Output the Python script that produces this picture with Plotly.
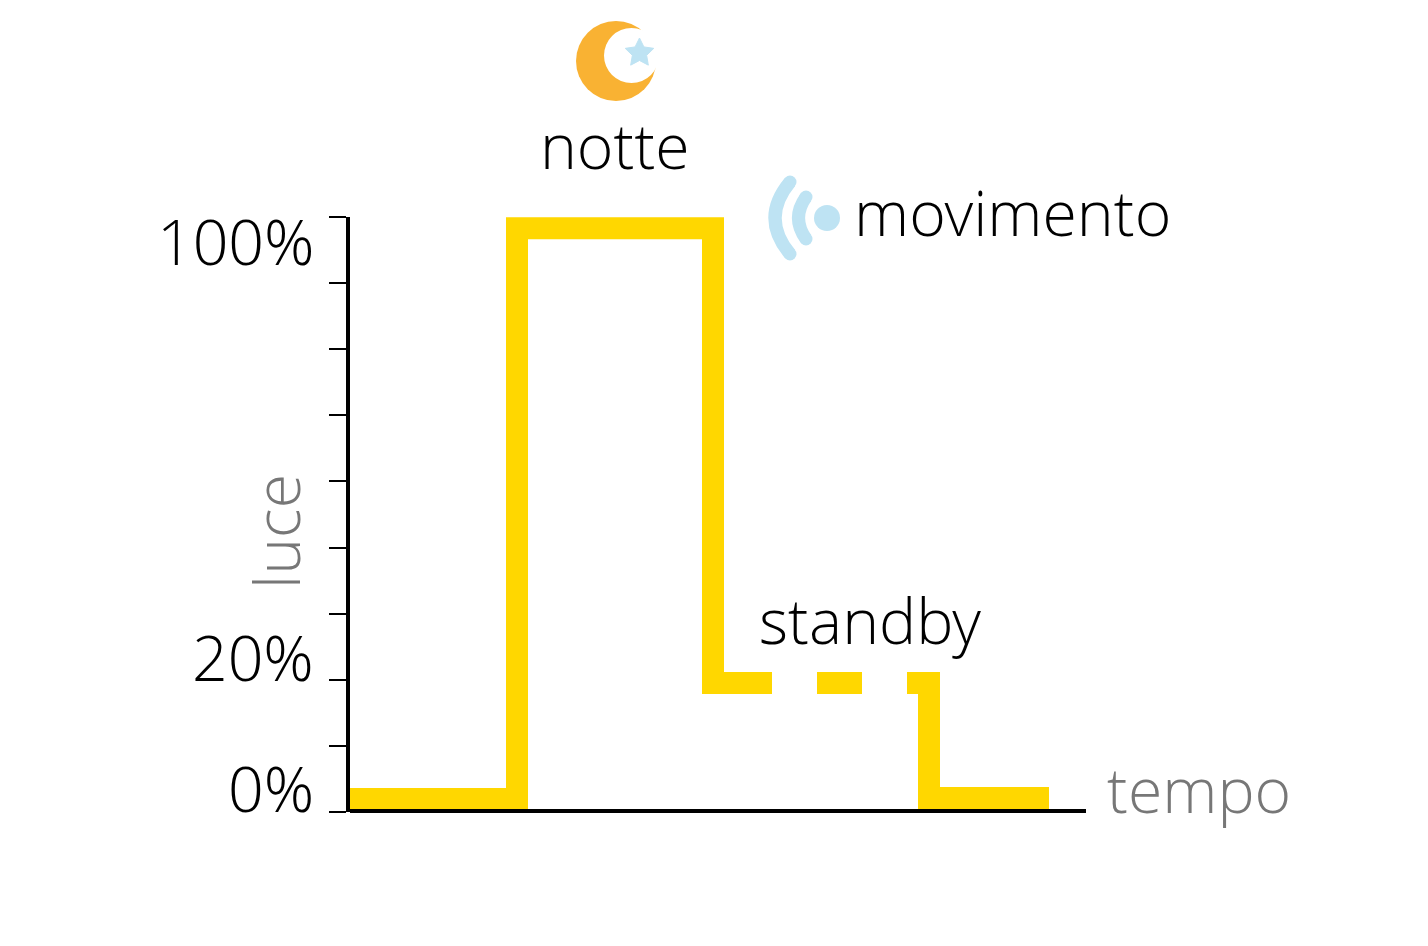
import math
import plotly.graph_objects as go

# Data
time_values = [0, 1.67, 1.67, 3.63, 3.63, 4.22, None, 4.67, 5.12, None, 5.57, 5.79, 5.79, 6.99]
light_values = [0.197, 0.197, 8.83, 8.83, 1.95, 1.95, None, 1.95, 1.95, None, 1.95, 1.95, 0.21, 0.21]
tick_positions = [0, 1, 2, 3, 4, 5, 6, 7, 8, 9]
tick_labels = ["0%", "20%", "100%"]
axis_titles = ["luce", "tempo"]
phase_labels = ["notte", "movimento", "standby"]

W, H = 1412, 930
OFF = 8
L, R, T, B = 350, 1086, 217, 812
FONT = "Open Sans Light, Open Sans, sans-serif"
YEL = "#FFD700"
BLUE = "#BEE3F3"
ORANGE = "#F9B233"
GREY = "#777777"


def px(x):
    return (x - L) / (R - L)


def py(y):
    return (B - y) / (B - T)


def circle(cx, cy, r, color):
    return dict(type="circle", xref="paper", yref="paper",
                x0=px(cx - r), x1=px(cx + r), y0=py(cy + r), y1=py(cy - r),
                fillcolor=color, line=dict(width=0), layer="above")


def poly(points, color):
    d = "M " + " L ".join(f"{px(a):.5f},{py(b):.5f}" for a, b in points) + " Z"
    return dict(type="path", xref="paper", yref="paper", path=d, fillcolor=color,
                line=dict(width=1, color=color), layer="above")


def arc(x0, y0, cx, cy, x1, y1, width, color):
    d = f"M {px(x0):.5f},{py(y0):.5f} Q {px(cx):.5f},{py(cy):.5f} {px(x1):.5f},{py(y1):.5f}"
    return dict(type="path", xref="paper", yref="paper", path=d,
                line=dict(width=width, color=color), layer="above")


star = []
for i in range(10):
    r = 15 if i % 2 == 0 else 7.5
    a = math.radians(-90 + 36 * i)
    star.append((639.5 + r * math.cos(a), 53 + r * math.sin(a)))

shapes = [
    circle(616, 61, 40, ORANGE),
    circle(631.5, 55.5, 27.5, "white"),
    poly(star, BLUE),
    circle(827, 218, 13, BLUE),
    arc(806, 197, 791, 218, 806, 239, 13, BLUE),
    circle(806, 197, 6.5, BLUE),
    circle(806, 239, 6.5, BLUE),
    arc(790, 182, 760, 218, 790, 254, 13, BLUE),
    circle(790, 182, 6.5, BLUE),
    circle(790, 254, 6.5, BLUE),
]


def label(text, x, y, anchor="center", color="black", size=62.5, angle=0):
    return dict(text=text, xref="paper", yref="paper", x=px(x), y=py(y), xanchor=anchor,
                yanchor="middle", showarrow=False, textangle=angle,
                font=dict(family=FONT, size=size, color=color, weight=300))


annotations = [
    label(tick_labels[2], 315.5, 241, "right"),
    label(tick_labels[1], 315.5, 656, "right"),
    label(tick_labels[0], 315.5, 787, "right"),
    label(phase_labels[0], 615, 144.5),
    label(phase_labels[1], 1012, 211),
    label(phase_labels[2], 870, 619),
    label(axis_titles[1], 1199, 788, color=GREY),
    label(axis_titles[0], 275, 532, color=GREY, angle=-90),
]

fig = go.Figure(go.Scatter(x=time_values, y=light_values, mode="lines",
                           line=dict(color=YEL, width=22), connectgaps=False,
                           hoverinfo="skip", cliponaxis=False))
fig.update_layout(
    width=W, height=H, showlegend=False, plot_bgcolor="white", paper_bgcolor="white",
    margin=dict(l=L - OFF, r=W + OFF - R, t=T - OFF, b=H + OFF - B, autoexpand=False),
    shapes=shapes, annotations=annotations,
    xaxis=dict(range=[0, 7.36], showgrid=False, zeroline=False, showline=True, linecolor="black",
               linewidth=4, ticks="", showticklabels=False, anchor="free", position=1 / 595),
    yaxis=dict(range=[0, 9], tickmode="array", tickvals=tick_positions, showgrid=False, zeroline=False,
               showline=True, linecolor="black", linewidth=4, ticks="outside", ticklen=17, tickwidth=2,
               tickcolor="black", showticklabels=False),
)
fig.write_html("out.html")
